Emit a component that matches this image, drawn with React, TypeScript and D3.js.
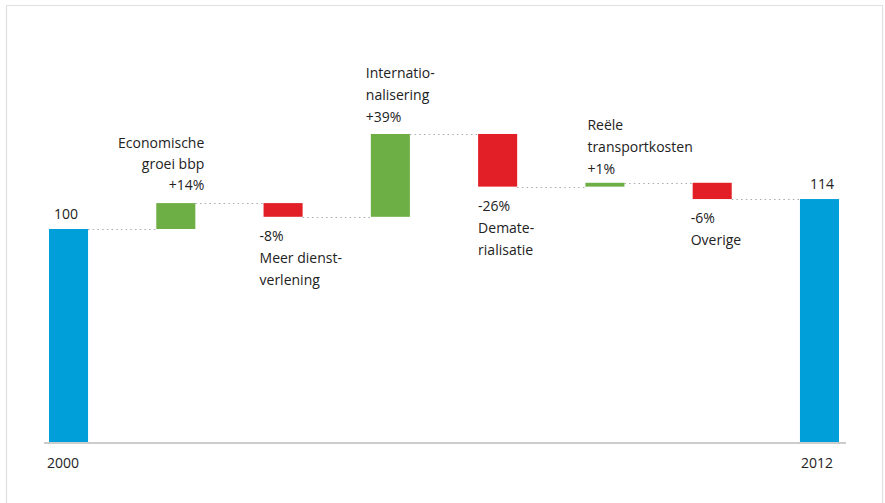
import React from "react";
import * as d3 from "d3";

const categories = ["2000", "groei", "dienst", "intern", "demat", "transport", "overige", "2012"];
const startValue = 100;
const endValue = 114;
const deltas = [12.1, -6.4, 38.7, -24.6, 1.8, -7.6];
const startLabel = "100";
const endLabel = "114";
const yearLabels = ["2000", "2012"];
const stepLabels: string[][] = [
  ["Economische", "groei bbp", "+14%"],
  ["-8%", "Meer dienst-", "verlening"],
  ["Internatio-", "nalisering", "+39%"],
  ["-26%", "Demate-", "rialisatie"],
  ["Reële", "transportkosten", "+1%"],
  ["-6%", "Overige"],
];

const W = 885;
const H = 503;
const BLUE = "#009FDA";
const GREEN = "#6DAF44";
const RED = "#E21F26";
const TEXT = "#222";
const FONT = "'Open Sans', 'Noto Sans', sans-serif";

export default function App() {
  const x = d3.scaleBand<string>().domain(categories).range([49, 839]).paddingInner(0.636).paddingOuter(0);
  const y = d3.scaleLinear().domain([0, 100]).range([443, 229]);
  const bw = x.bandwidth();

  const levels: number[] = [startValue];
  deltas.forEach((d) => levels.push(levels[levels.length - 1] + d));

  const steps = deltas.map((d, i) => ({ cat: categories[i + 1], from: levels[i], to: levels[i + 1], d }));

  const connectors: { x1: number; x2: number; v: number }[] = [];
  connectors.push({ x1: x(categories[0])! + bw, x2: x(categories[1])!, v: startValue });
  steps.forEach((s, i) => {
    connectors.push({ x1: x(s.cat)! + bw, x2: x(categories[i + 2])!, v: s.to });
  });

  const lh = 22;

  return (
    <svg
      width={W}
      height={H}
      style={{ position: "absolute", left: 0, top: 0, display: "block", background: "#fff" }}
      fontFamily={FONT}
    >
      <path d={`M6.5,${H} V5.5 H882.5 V${H}`} fill="none" stroke="#e0e0e0" strokeWidth={1.2} />

      {connectors.map((c, i) => (
        <line
          key={"c" + i}
          x1={c.x1}
          x2={c.x2}
          y1={Math.round(y(c.v)) + 0.5}
          y2={Math.round(y(c.v)) + 0.5}
          stroke="#aaa"
          strokeWidth={1}
          strokeDasharray="1.5 3.2"
        />
      ))}

      <rect x={x(categories[0])} y={y(startValue)} width={bw} height={y(0) - y(startValue)} fill={BLUE} />
      <rect
        x={x(categories[categories.length - 1])}
        y={y(endValue)}
        width={bw}
        height={y(0) - y(endValue)}
        fill={BLUE}
      />

      {steps.map((s) => (
        <rect
          key={s.cat}
          x={x(s.cat)}
          y={y(Math.max(s.from, s.to))}
          width={bw}
          height={Math.abs(y(s.from) - y(s.to))}
          fill={s.d >= 0 ? GREEN : RED}
        />
      ))}

      <line x1={44} x2={846} y1={443} y2={443} stroke="#ccc" strokeWidth={2} />

      <g fontSize={14} fill={TEXT}>
        <text x={x(categories[0])! + 5} y={y(startValue) - 10}>{startLabel}</text>
        <text x={x(categories[7])! + 10} y={y(endValue) - 10}>{endLabel}</text>
        <text x={x(categories[0])! - 2} y={468}>{yearLabels[0]}</text>
        <text x={x(categories[7])! + 1} y={468}>{yearLabels[1]}</text>

        {stepLabels[0].map((t, j) => (
          <text
            key={"l0" + j}
            x={x(categories[1])! + bw + 9}
            y={y(steps[0].to) - 13 - (stepLabels[0].length - 1 - j) * 21}
            textAnchor="end"
          >
            {t}
          </text>
        ))}
        {stepLabels[1].map((t, j) => (
          <text key={"l1" + j} x={x(categories[2])! - 4} y={y(steps[1].to) + 24 + j * lh}>
            {t}
          </text>
        ))}
        {stepLabels[2].map((t, j) => (
          <text
            key={"l2" + j}
            x={x(categories[3])! - 5}
            y={y(steps[2].to) - 12 - (stepLabels[2].length - 1 - j) * lh}
          >
            {t}
          </text>
        ))}
        {stepLabels[3].map((t, j) => (
          <text key={"l3" + j} x={x(categories[4])!} y={y(steps[3].to) + 24 + j * lh}>
            {t}
          </text>
        ))}
        {stepLabels[4].map((t, j) => (
          <text
            key={"l4" + j}
            x={x(categories[5])! + 2}
            y={y(steps[4].to) - 9 - (stepLabels[4].length - 1 - j) * lh}
          >
            {t}
          </text>
        ))}
        {stepLabels[5].map((t, j) => (
          <text key={"l5" + j} x={x(categories[6])! - 2} y={y(steps[5].to) + 24 + j * lh}>
            {t}
          </text>
        ))}
      </g>
    </svg>
  );
}
